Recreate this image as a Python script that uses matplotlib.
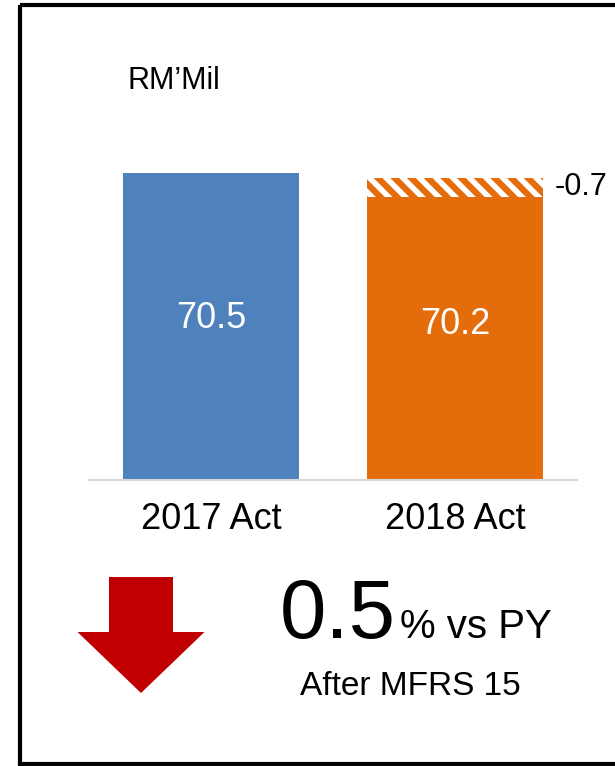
import matplotlib.pyplot as plt
from matplotlib.patches import FancyArrow, Rectangle

# values (RM'Mil)
categories = ["2017 Act", "2018 Act"]
actual = [70.5, 70.2]
mfrs_adj = 0.7          # hatched part on top of 2018
value_labels = ["70.5", "70.2"]
change_pct = "0.5"

blue = "#4F81BD"
orange = "#E46C0A"
red = "#C00000"

plt.rcParams['font.family'] = ['Liberation Sans', 'DejaVu Sans']
plt.rcParams['hatch.linewidth'] = 4.5
plt.rcParams['hatch.color'] = orange

fig = plt.figure(figsize=(6.15, 7.66), dpi=100)

# bar axes
ax = fig.add_axes([89/615, 1 - 480/766, 488/615, 380/766])
ymin = 57.7
ax.set_ylim(ymin, ymin + 380/24)
ax.set_xlim(-0.5, 1.5)

solid = [actual[0], actual[1] - mfrs_adj]
ax.bar([0], [solid[0] - ymin], bottom=ymin, width=0.72, color=blue)
ax.bar([1], [solid[1] - ymin], bottom=ymin, width=0.72, color=orange)
ax.bar([1], [mfrs_adj + 0.1], bottom=solid[1], width=0.72, facecolor="white",
       edgecolor=orange, hatch="\\\\", linewidth=0)

for s in ["top", "left", "right"]:
    ax.spines[s].set_visible(False)
ax.spines["bottom"].set_color("#d9d9d9")
ax.spines["bottom"].set_linewidth(1.5)
ax.set_yticks([])
ax.set_xticks([0, 1])
ax.set_xticklabels(categories, fontsize=26)
ax.tick_params(axis="x", length=0, pad=16)

# bar value labels
ax.text(0, ymin + (480 - 328) / 24, value_labels[0], color="white", fontsize=26,
        ha="center", va="baseline")
ax.text(1, ymin + (480 - 334) / 24, value_labels[1], color="white", fontsize=26,
        ha="center", va="baseline")
ax.text(1.41, solid[1] + mfrs_adj / 2 + 0.05, "-%.1f" % mfrs_adj, fontsize=22,
        ha="left", va="center", clip_on=False)

# overlay in pixel coords for annotations
ov = fig.add_axes([0, 0, 1, 1], facecolor="none")
ov.set_xlim(0, 615)
ov.set_ylim(766, 0)
ov.axis("off")

ov.add_patch(Rectangle((20, 5), 640, 759, fill=False, edgecolor="black",
                       linewidth=3, clip_on=False))

ov.text(128, 89, "RM\u2019Mil", fontsize=22, ha="left", va="baseline")

ov.add_patch(FancyArrow(141, 577, 0, 116, width=64, head_width=127,
                        head_length=61, length_includes_head=True,
                        color=red, linewidth=0))

ov.text(396, 638, change_pct, fontsize=60, ha="right", va="baseline")
ov.text(400, 638, "% vs PY", fontsize=29, ha="left", va="baseline")
ov.text(410, 695, "After MFRS 15", fontsize=24, ha="center", va="baseline")

fig.savefig("out.png", dpi=100)
